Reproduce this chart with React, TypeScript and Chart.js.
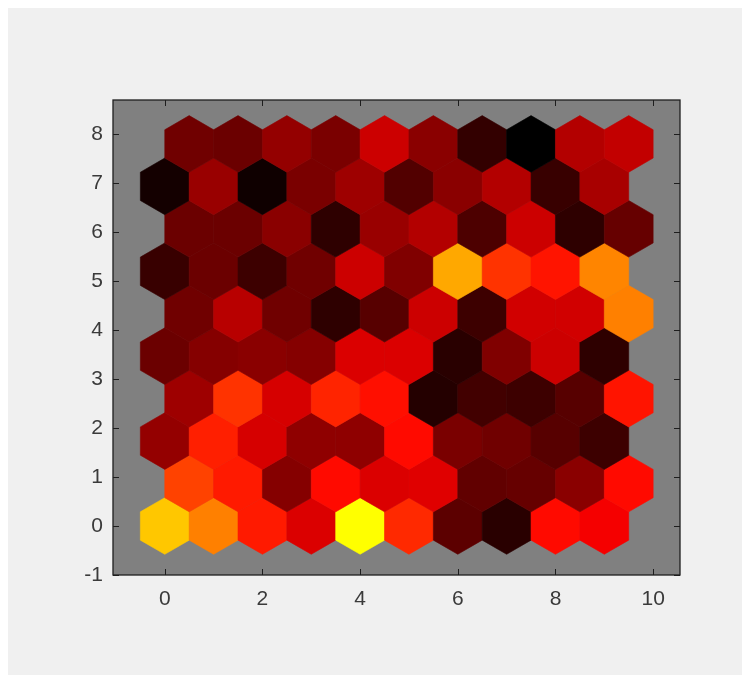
import { useEffect, useRef } from "react";
import { Chart, registerables } from "chart.js";

Chart.register(...registerables);

// Neuron values on the hot scale (0 = black, 100 = yellow), bottom row first.
// Even rows start at x = 0, odd rows are shifted right by half a cell.
const row0 = [89, 75, 55, 43, 100, 58, 18, 8, 52, 48];
const row1 = [63, 55, 26, 52, 43, 44, 19, 20, 27, 52];
const row2 = [29, 56, 42, 28, 28, 52, 24, 22, 17, 12];
const row3 = [31, 60, 42, 57, 53, 7, 13, 12, 17, 54];
const row4 = [21, 26, 27, 26, 43, 43, 8, 25, 40, 9];
const row5 = [22, 36, 22, 9, 17, 40, 12, 41, 41, 75];
const row6 = [11, 21, 12, 22, 40, 25, 83, 60, 54, 76];
const row7 = [21, 21, 27, 9, 30, 35, 15, 40, 9, 20];
const row8 = [4, 30, 3, 24, 31, 16, 27, 35, 11, 33];
const row9 = [22, 21, 29, 24, 40, 27, 10, 0, 35, 38];

const gridRows = [row0, row1, row2, row3, row4, row5, row6, row7, row8, row9];

const xTickValues = [0, 2, 4, 6, 8, 10];
const yTickValues = [-1, 0, 1, 2, 3, 4, 5, 6, 7, 8];

const ROW_STEP = Math.sqrt(0.75);
const HEX_R = 1 / Math.sqrt(3);

function hotColor(v: number): string {
  const r = Math.max(0, Math.min(1, v / 50));
  const g = Math.max(0, Math.min(1, (v - 50) / 50));
  return `rgb(${Math.round(r * 255)}, ${Math.round(g * 255)}, 0)`;
}

type Cell = { x: number; y: number; v: number };

function buildCells(): Cell[] {
  const cells: Cell[] = [];
  gridRows.forEach((row, r) => {
    row.forEach((v, c) => {
      cells.push({ x: c + (r % 2) * 0.5, y: r * ROW_STEP, v });
    });
  });
  return cells;
}

const hexPlugin = {
  id: "hexCells",
  beforeDraw(chart: any) {
    const { ctx, chartArea, width, height } = chart;
    ctx.save();
    ctx.fillStyle = "#f0f0f0";
    ctx.fillRect(0, 0, width, height);
    ctx.fillStyle = "#808080";
    ctx.fillRect(
      chartArea.left,
      chartArea.top,
      chartArea.right - chartArea.left,
      chartArea.bottom - chartArea.top
    );
    ctx.restore();
  },
  afterDatasetsDraw(chart: any) {
    const { ctx } = chart;
    const xs = chart.scales.x;
    const ys = chart.scales.y;
    const cells = chart.data.datasets[0].data as Cell[];
    const offsets = [
      [0, HEX_R],
      [0.5, HEX_R / 2],
      [0.5, -HEX_R / 2],
      [0, -HEX_R],
      [-0.5, -HEX_R / 2],
      [-0.5, HEX_R / 2],
    ];
    ctx.save();
    cells.forEach((cell) => {
      ctx.beginPath();
      offsets.forEach(([dx, dy], i) => {
        const px = xs.getPixelForValue(cell.x + dx);
        const py = ys.getPixelForValue(cell.y + dy);
        if (i === 0) ctx.moveTo(px, py);
        else ctx.lineTo(px, py);
      });
      ctx.closePath();
      const col = hotColor(cell.v);
      ctx.fillStyle = col;
      ctx.strokeStyle = col;
      ctx.lineWidth = 0.6;
      ctx.fill();
      ctx.stroke();
    });
    ctx.restore();
  },
  afterDraw(chart: any) {
    const { ctx, chartArea } = chart;
    const { left, right, top, bottom } = chartArea;
    const xs = chart.scales.x;
    const ys = chart.scales.y;
    const tl = 6;
    ctx.save();
    ctx.strokeStyle = "#1e1e1e";
    ctx.lineWidth = 1.3;
    ctx.strokeRect(left, top, right - left, bottom - top);
    ctx.lineWidth = 1;
    ctx.beginPath();
    xTickValues.forEach((v) => {
      const px = Math.round(xs.getPixelForValue(v)) + 0.5;
      ctx.moveTo(px, bottom);
      ctx.lineTo(px, bottom - tl);
      ctx.moveTo(px, top);
      ctx.lineTo(px, top + tl);
    });
    yTickValues.forEach((v) => {
      const py = Math.round(ys.getPixelForValue(v)) + 0.5;
      ctx.moveTo(left, py);
      ctx.lineTo(left + tl, py);
      ctx.moveTo(right, py);
      ctx.lineTo(right - tl, py);
    });
    ctx.stroke();
    ctx.restore();
  },
};

const tickFont = { family: "'Liberation Sans', Arial, Helvetica, sans-serif", size: 21 };

export default function App() {
  const canvasRef = useRef<HTMLCanvasElement | null>(null);

  useEffect(() => {
    if (!canvasRef.current) return;
    const chart = new Chart(canvasRef.current, {
      type: "scatter",
      data: {
        datasets: [
          {
            data: buildCells() as any,
            pointRadius: 0,
            pointHoverRadius: 0,
          },
        ],
      },
      plugins: [hexPlugin],
      options: {
        responsive: false,
        animation: false,
        events: [],
        layout: { padding: { left: 0, right: 70, top: 92, bottom: 50 } },
        plugins: { legend: { display: false }, tooltip: { enabled: false } },
        scales: {
          x: {
            type: "linear",
            min: -1.06,
            max: 10.55,
            grid: { display: false, drawTicks: false },
            border: { display: false },
            afterBuildTicks: (scale: any) => {
              scale.ticks = xTickValues.map((value) => ({ value }));
            },
            afterFit: (scale: any) => {
              scale.height = 50;
            },
            ticks: {
              padding: 12,
              color: "#3a3a3a",
              font: tickFont,
              maxRotation: 0,
              callback: (v: any) => String(v),
            },
          },
          y: {
            type: "linear",
            min: -1,
            max: 8.69,
            grid: { display: false, drawTicks: false },
            border: { display: false },
            afterBuildTicks: (scale: any) => {
              scale.ticks = yTickValues.map((value) => ({ value }));
            },
            afterFit: (scale: any) => {
              scale.width = 105;
            },
            ticks: {
              padding: 10,
              color: "#3a3a3a",
              font: tickFont,
              callback: (v: any) => String(v),
            },
          },
        },
      },
    });
    return () => chart.destroy();
  }, []);

  return (
    <canvas
      ref={canvasRef}
      width={742}
      height={667}
      style={{ display: "block", width: 742, height: 667 }}
    />
  );
}
